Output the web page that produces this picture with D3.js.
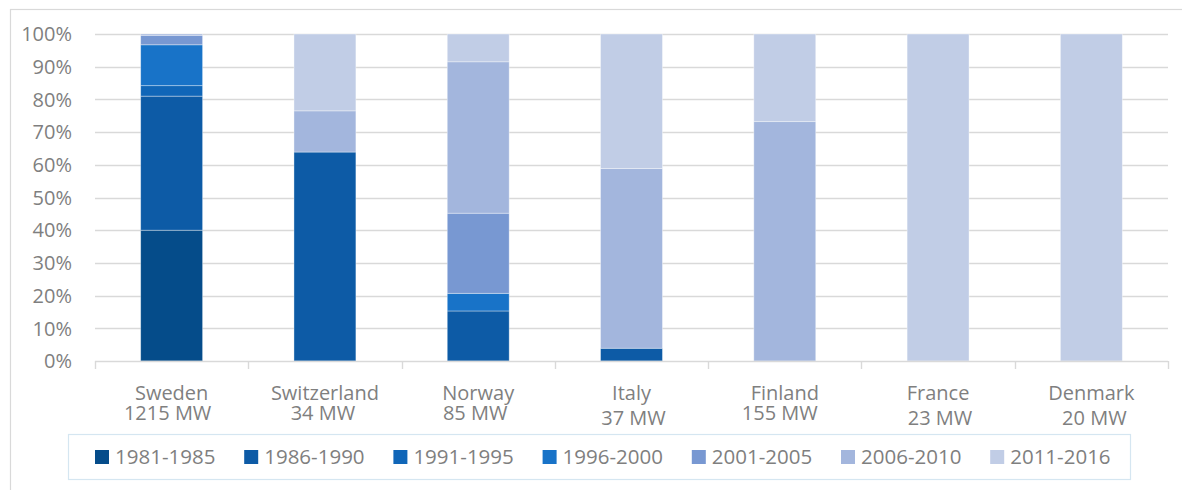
<!DOCTYPE html>
<html>
<head>
<meta charset="utf-8">
<script src="https://cdn.jsdelivr.net/npm/d3@7"></script>
<style>
  html, body { margin: 0; padding: 0; background: #fff; }
  svg { display: block; font-family: "Open Sans", "Noto Sans", sans-serif; }
</style>
</head>
<body>
<svg id="chart" width="1182" height="490"></svg>
<script>
// ---- data ----
const categories = ["Sweden", "Switzerland", "Norway", "Italy", "Finland", "France", "Denmark"];
const capacities = ["1215 MW", "34 MW", "85 MW", "37 MW", "155 MW", "23 MW", "20 MW"];
const seriesNames = ["1981-1985", "1986-1990", "1991-1995", "1996-2000", "2001-2005", "2006-2010", "2011-2016"];
const s1981 = [40.0, 0, 0, 0, 0, 0, 0];
const s1986 = [41.0, 63.9, 15.3, 3.9, 0, 0, 0];
const s1991 = [3.2, 0, 0, 0, 0, 0, 0];
const s1996 = [12.5, 0, 5.4, 0, 0, 0, 0];
const s2001 = [2.9, 0, 24.5, 0, 0, 0, 0];
const s2006 = [0.4, 12.6, 46.3, 55.0, 73.2, 0, 0];
const s2011 = [0, 23.5, 8.5, 41.1, 26.8, 100, 100];
const yTicks = [0, 10, 20, 30, 40, 50, 60, 70, 80, 90, 100];

// ---- styles ----
const colors = ["#054c8a", "#0d5ba6", "#1066b8", "#1873c8", "#7898d2", "#a3b6dd", "#c1cde6"];
const textColor = "#7f7f7f";
const gridColor = "#d9d9d9";
// small label nudges for the capacity line (dx, baseline y)
const line2Style = [[-4, 420], [-2, 420], [-3, 420], [2, 425], [-5, 420], [2, 425], [3, 425]];

const seriesValues = [s1981, s1986, s1991, s1996, s2001, s2006, s2011];
const rows = categories.map((c, i) => {
  const r = { category: c };
  seriesNames.forEach((s, j) => r[s] = seriesValues[j][i]);
  return r;
});

const svg = d3.select("#chart");

// chart border
svg.append("rect")
  .attr("x", 10.5).attr("y", 9.5).attr("width", 1200).attr("height", 500)
  .attr("fill", "none").attr("stroke", gridColor).attr("stroke-width", 1.2);

const plotLeft = 95, plotRight = 1168, plotTop = 34, plotBottom = 361;

const y = d3.scaleLinear().domain([0, 100]).range([plotBottom, plotTop]);
const xOuter = d3.scaleBand().domain(categories).range([plotLeft, plotRight]).padding(0);
const x = d3.scaleBand().domain(categories).range([plotLeft, plotRight])
  .paddingInner(0.596).paddingOuter(0.298);

// gridlines
svg.append("g").selectAll("line").data(yTicks.filter(t => t > 0)).join("line")
  .attr("x1", plotLeft).attr("x2", plotRight)
  .attr("y1", d => Math.round(y(d)) + 0.5).attr("y2", d => Math.round(y(d)) + 0.5)
  .attr("stroke", gridColor).attr("stroke-width", 1.4);

// y labels
svg.append("g").selectAll("text").data(yTicks).join("text")
  .attr("x", 72).attr("y", d => y(d)).attr("dy", "0.36em")
  .attr("text-anchor", "end").attr("fill", textColor).attr("font-size", 20)
  .text(d => d + "%");

// bars
const stack = d3.stack().keys(seriesNames);
const layers = stack(rows);
svg.append("g").selectAll("g").data(layers).join("g")
  .attr("fill", (d, i) => colors[i])
  .selectAll("rect").data(d => d.filter(p => p[1] - p[0] > 0)).join("rect")
  .attr("x", d => x(d.data.category))
  .attr("width", x.bandwidth())
  .attr("y", d => y(d[1]))
  .attr("height", d => y(d[0]) - y(d[1]))
  .attr("stroke", "rgba(255,255,255,0.45)").attr("stroke-width", 0.8);

// x axis line and ticks
svg.append("line")
  .attr("x1", plotLeft).attr("x2", plotRight)
  .attr("y1", plotBottom + 0.5).attr("y2", plotBottom + 0.5)
  .attr("stroke", gridColor).attr("stroke-width", 1.4);
const tickXs = categories.map(c => xOuter(c)).concat([plotRight]);
svg.append("g").selectAll("line").data(tickXs).join("line")
  .attr("x1", d => Math.round(d) + 0.5).attr("x2", d => Math.round(d) + 0.5)
  .attr("y1", plotBottom).attr("y2", plotBottom + 8)
  .attr("stroke", gridColor).attr("stroke-width", 1.4);

// x labels
const xl = svg.append("g").selectAll("g").data(categories).join("g");
xl.append("text")
  .attr("x", d => xOuter(d) + xOuter.bandwidth() / 2).attr("y", 400)
  .attr("text-anchor", "middle").attr("fill", textColor).attr("font-size", 20)
  .text(d => d);
xl.append("text")
  .attr("x", (d, i) => xOuter(d) + xOuter.bandwidth() / 2 + line2Style[i][0])
  .attr("y", (d, i) => line2Style[i][1])
  .attr("text-anchor", "middle").attr("fill", textColor).attr("font-size", 20)
  .text((d, i) => capacities[i]);

// legend
svg.append("rect")
  .attr("x", 68.5).attr("y", 434.5).attr("width", 1062).attr("height", 45)
  .attr("fill", "none").attr("stroke", "#d5e6f1").attr("stroke-width", 1.2);
const lg = svg.append("g").selectAll("g").data(seriesNames).join("g")
  .attr("transform", (d, i) => `translate(${95 + i * 149.2},450)`);
lg.append("rect").attr("width", 14).attr("height", 14).attr("fill", (d, i) => colors[i]);
lg.append("text").attr("x", 20).attr("y", 14.3)
  .attr("fill", textColor).attr("font-size", 20.5).text(d => d);
</script>
</body>
</html>
